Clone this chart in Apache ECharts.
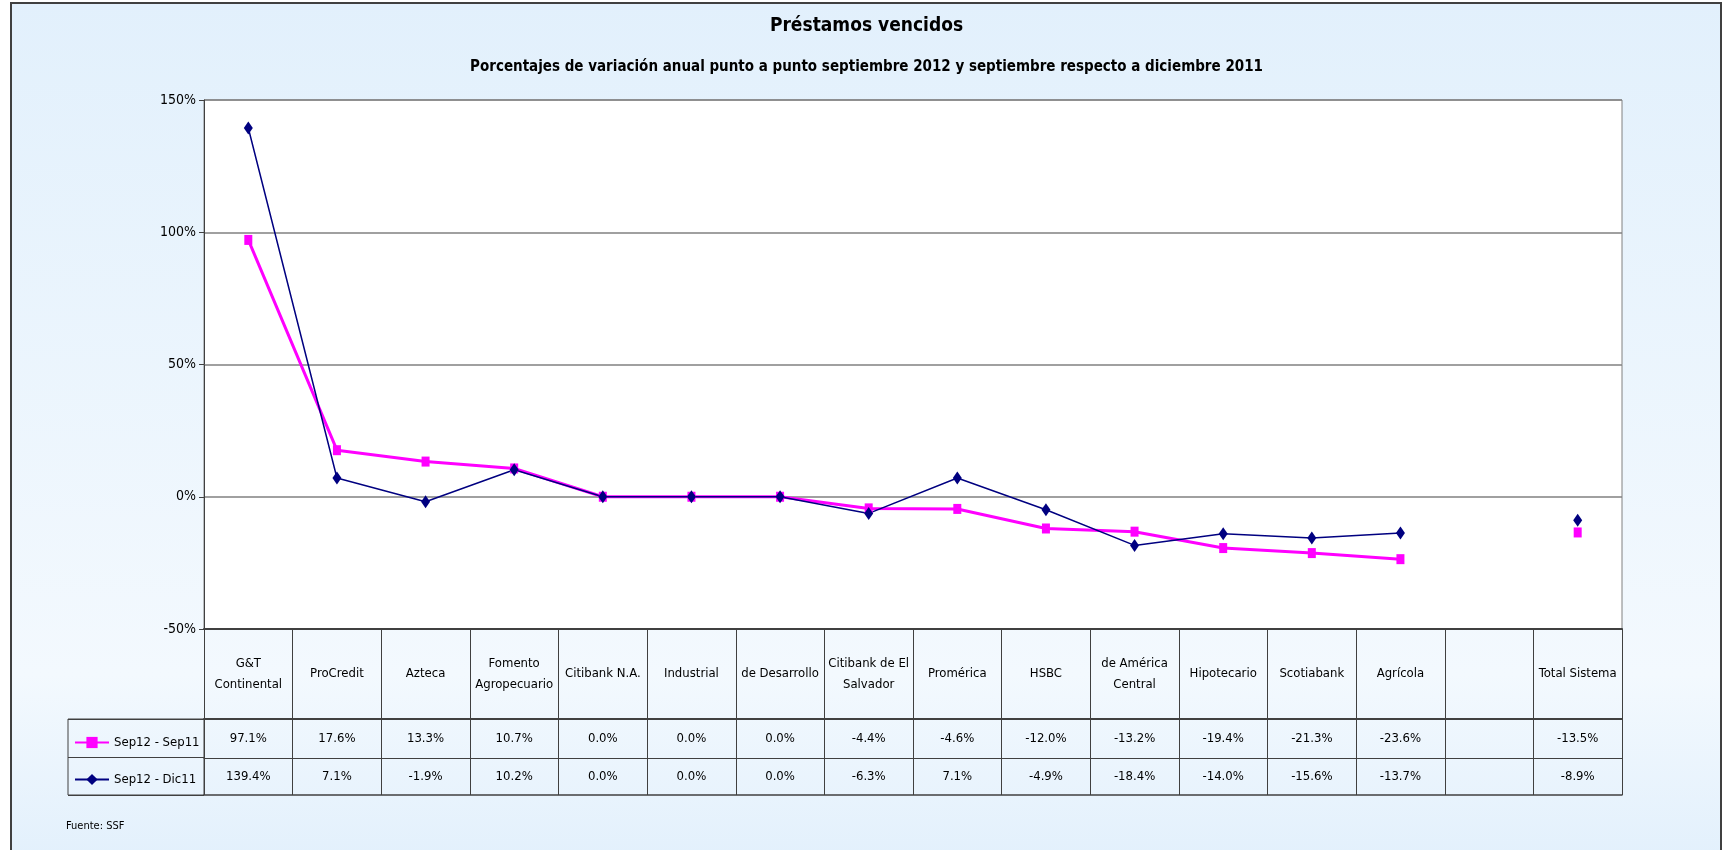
<!DOCTYPE html>
<html>
<head>
<meta charset="utf-8">
<title>Préstamos vencidos</title>
<script src="https://cdn.jsdelivr.net/npm/echarts@6/dist/echarts.min.js"></script>
<style>
  html, body { margin: 0; padding: 0; background: #fff; }
  #chart { width: 1733px; height: 850px; }
</style>
</head>
<body>
<div id="chart"></div>
<script>
// data
const categories = ['G&T\nContinental', 'ProCredit', 'Azteca', 'Fomento\nAgropecuario', 'Citibank N.A.',
  'Industrial', 'de Desarrollo', 'Citibank de El\nSalvador', 'Promérica', 'HSBC', 'de América\nCentral',
  'Hipotecario', 'Scotiabank', 'Agrícola', '', 'Total Sistema'];
const sepSep = [97.1, 17.6, 13.3, 10.7, 0.0, 0.0, 0.0, -4.4, -4.6, -12.0, -13.2, -19.4, -21.3, -23.6, null, -13.5];
const sepDic = [139.4, 7.1, -1.9, 10.2, 0.0, 0.0, 0.0, -6.3, 7.1, -4.9, -18.4, -14.0, -15.6, -13.7, null, -8.9];
const seriesNames = ['Sep12 - Sep11', 'Sep12 - Dic11'];
const yMin = -50, yMax = 150, yStep = 50;

const FONT = "'Liberation Sans Narrow', 'Arial Narrow', 'DejaVu Sans Condensed', sans-serif";
const LINE = '#404040';

function pct(v) {
  return v == null ? '' : v.toFixed(1) + '%';
}

const chart = echarts.init(document.getElementById('chart'));

const option = {
  animation: false,
  backgroundColor: '#fff',
  textStyle: { fontFamily: FONT, color: '#000' },
  graphic: [{
    type: 'rect',
    z: -10,
    shape: { x: 11, y: 3, width: 1710, height: 860 },
    style: {
      fill: new echarts.graphic.LinearGradient(0, 0, 0, 1, [
        { offset: 0, color: '#E2F0FC' },
        { offset: 0.78, color: '#F3F9FE' },
        { offset: 1, color: '#E2F0FC' }
      ]),
      stroke: LINE,
      lineWidth: 2
    }
  }],
  title: [{
    text: 'Préstamos vencidos',
    subtext: 'Porcentajes de variación anual punto a punto septiembre 2012 y septiembre respecto a diciembre 2011',
    left: 'center',
    top: 12,
    itemGap: 24,
    textStyle: { fontFamily: FONT, fontSize: 19, fontWeight: 'bold', color: '#000' },
    subtextStyle: { fontFamily: FONT, fontSize: 15, fontWeight: 'bold', color: '#000' }
  }, {
    text: 'Fuente: SSF',
    left: 61,
    top: 816,
    textStyle: { fontFamily: FONT, fontSize: 11, fontWeight: 'normal', color: '#000' }
  }],
  legend: {
    orient: 'vertical',
    left: 69,
    top: 731,
    itemGap: 24,
    itemWidth: 34,
    itemHeight: 14,
    textStyle: { fontFamily: FONT, fontSize: 13, color: '#000' },
    data: seriesNames
  },
  grid: [{
    left: 204, right: 111, top: 100, height: 529,
    show: true,
    backgroundColor: '#fff',
    borderColor: '#808080',
    borderWidth: 1
  }, {
    // legend column of the data table
    left: 68, top: 719, width: 136, height: 76,
    show: true,
    backgroundColor: 'transparent',
    borderColor: LINE,
    borderWidth: 1
  }],
  xAxis: [{
    type: 'category',
    gridIndex: 0,
    data: categories,
    boundaryGap: true,
    axisLine: { onZero: false, lineStyle: { color: LINE, width: 2 } },
    axisTick: { show: true, interval: 0, length: 166, lineStyle: { color: LINE } },
    axisLabel: {
      interval: 0, margin: 45, verticalAlign: 'middle',
      fontFamily: FONT, fontSize: 13, lineHeight: 21, color: '#000'
    }
  }, {
    type: 'category',
    gridIndex: 0,
    data: categories,
    position: 'bottom',
    offset: 90,
    axisLine: { onZero: false, lineStyle: { color: LINE, width: 2 } },
    axisTick: { show: false },
    axisLabel: {
      interval: 0, margin: 20, verticalAlign: 'middle',
      fontFamily: FONT, fontSize: 13, color: '#000',
      formatter: (v, i) => pct(sepSep[i])
    }
  }, {
    type: 'category',
    gridIndex: 0,
    data: categories,
    position: 'bottom',
    offset: 129,
    axisLine: { onZero: false, lineStyle: { color: LINE } },
    axisTick: { show: false },
    axisLabel: {
      interval: 0, margin: 19, verticalAlign: 'middle',
      fontFamily: FONT, fontSize: 13, color: '#000',
      formatter: (v, i) => pct(sepDic[i])
    }
  }, {
    type: 'category',
    gridIndex: 0,
    data: categories,
    position: 'bottom',
    offset: 166,
    axisLine: { onZero: false, lineStyle: { color: LINE, width: 1.5 } },
    axisTick: { show: false },
    axisLabel: { show: false }
  }, {
    type: 'value',
    gridIndex: 1,
    min: 0, max: 1,
    show: false
  }],
  yAxis: [{
    type: 'value',
    gridIndex: 0,
    min: yMin, max: yMax, interval: yStep,
    axisLine: { show: true, lineStyle: { color: LINE } },
    axisTick: { show: true, length: 5, lineStyle: { color: LINE } },
    axisLabel: {
      fontFamily: FONT, fontSize: 14, color: '#000', margin: 8,
      formatter: '{value}%'
    },
    splitLine: { lineStyle: { color: '#808080', width: 1.5 } }
  }, {
    type: 'value',
    gridIndex: 1,
    min: 0, max: 2, interval: 1,
    axisLine: { show: false },
    axisTick: { show: false },
    axisLabel: { show: false },
    splitLine: { show: true, lineStyle: { color: LINE } }
  }],
  series: [{
    name: seriesNames[0],
    type: 'line',
    xAxisIndex: 0,
    yAxisIndex: 0,
    data: sepSep,
    color: '#FF00FF',
    lineStyle: { width: 3 },
    symbol: 'rect',
    symbolSize: [8, 10],
    showSymbol: true,
    connectNulls: false
  }, {
    name: seriesNames[1],
    type: 'line',
    xAxisIndex: 0,
    yAxisIndex: 0,
    data: sepDic,
    color: '#000080',
    lineStyle: { width: 1.5 },
    symbol: 'diamond',
    symbolSize: [9, 13],
    showSymbol: true,
    connectNulls: false
  }]
};

chart.setOption(option);
</script>
</body>
</html>
